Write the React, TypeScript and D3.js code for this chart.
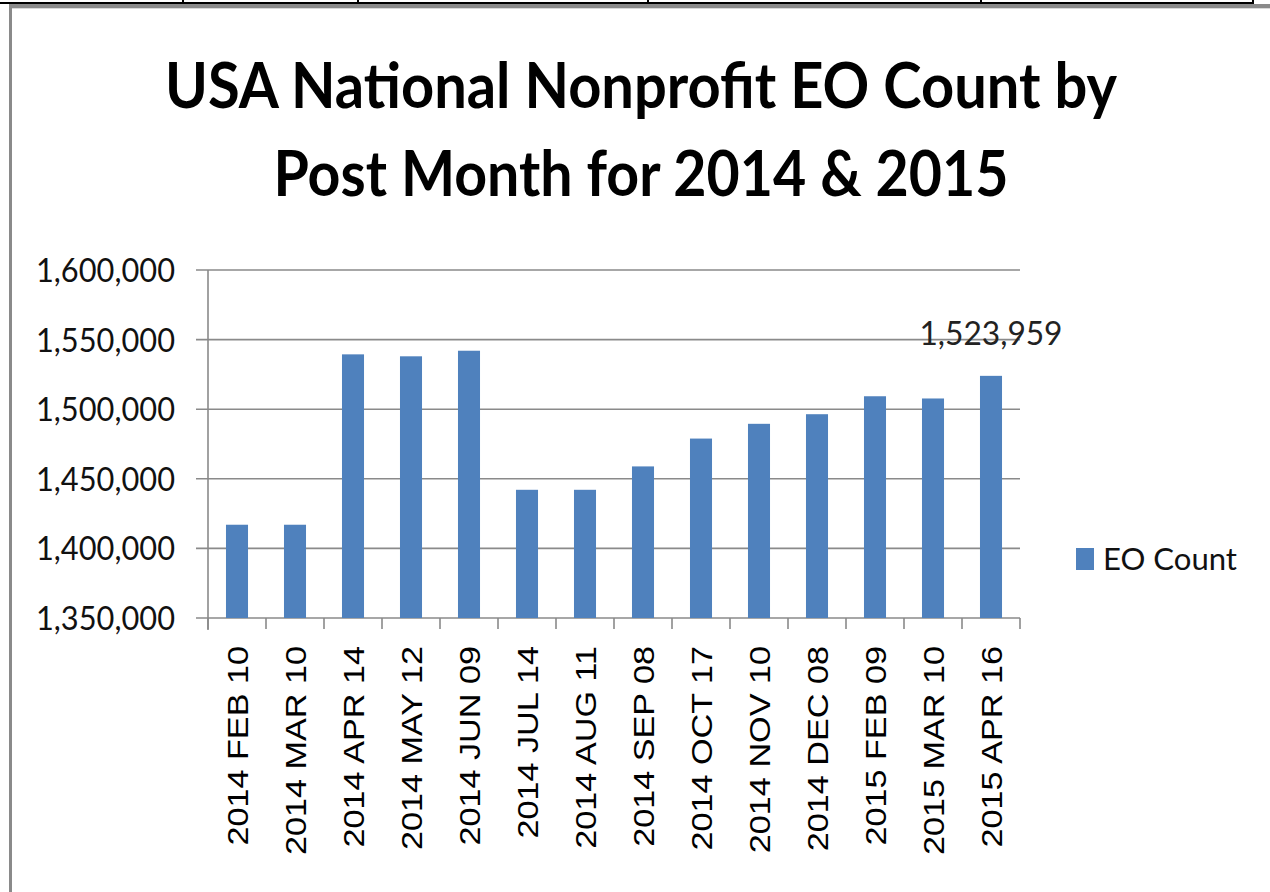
import React from "react";
import * as d3 from "d3";

const categories = [
  "2014 FEB 10", "2014 MAR 10", "2014 APR 14", "2014 MAY 12", "2014 JUN 09",
  "2014 JUL 14", "2014 AUG 11", "2014 SEP 08", "2014 OCT 17", "2014 NOV 10",
  "2014 DEC 08", "2015 FEB 09", "2015 MAR 10", "2015 APR 16",
];
const eoCount = [
  1417000, 1417000, 1539400, 1538000, 1542000,
  1442100, 1442100, 1458900, 1478900, 1489500,
  1496400, 1509300, 1507700, 1523959,
];
const yTicks = [1350000, 1400000, 1450000, 1500000, 1550000, 1600000];
const titleLines = ["USA National Nonprofit EO Count by", "Post Month for 2014 & 2015"];
const seriesName = "EO Count";
const topTicks = [183, 358, 648, 981, 1253];

export default function App() {
  const W = 1270, H = 892;
  const left = 208, right = 1020, top = 270, bottom = 618;
  const x = d3.scaleBand<string>().domain(categories).range([left, right]).paddingInner(0.62).paddingOuter(0.31);
  const y = d3.scaleLinear().domain([1350000, 1600000]).range([bottom, top]);
  const fmt = d3.format(",");
  const step = x.step();
  const boundaries = d3.range(categories.length + 1).map((i) => left + i * step);
  const blue = "#4F81BD";
  const grid = "#8a8a8a";
  const lastIdx = eoCount.length - 1;

  return (
    <svg width={W} height={H} style={{ position: "absolute", left: 0, top: 0, background: "#fff" }}>
      {/* frame */}
      <line x1={0} x2={1254} y1={3} y2={3} stroke="#000" strokeWidth={2} />
      {topTicks.map((t) => (
        <line key={t} x1={t} x2={t} y1={0} y2={4} stroke="#000" strokeWidth={2} />
      ))}
      <rect x={9} y={4} width={W - 9} height={4} fill="#8a8a8a" />
      <rect x={9} y={8} width={W - 9} height={1} fill="#d9d9d9" />
      <rect x={9} y={4} width={3} height={H - 4} fill="#8a8a8a" />

      {/* title */}
      {titleLines.map((t, i) => (
        <text key={t} x={641} y={108 + i * 88} textAnchor="middle" fontFamily="Lato, 'Open Sans', sans-serif"
          fontWeight={700} fontSize={63} fill="#000" textLength={i === 0 ? 952 : 735} lengthAdjust="spacingAndGlyphs">
          {t}
        </text>
      ))}

      {/* gridlines and y axis labels */}
      {yTicks.map((v) => (
        <g key={v}>
          <line x1={196} x2={right} y1={y(v)} y2={y(v)} stroke={grid} strokeWidth={1.6} />
          <text x={175} y={y(v) + 12} textAnchor="end" fontFamily="Lato, sans-serif" fontSize={32} fill="#111"
            textLength={139} lengthAdjust="spacingAndGlyphs">
            {fmt(v)}
          </text>
        </g>
      ))}
      {/* y axis line */}
      <line x1={left} x2={left} y1={top} y2={bottom + 12} stroke={grid} strokeWidth={1.6} />
      {/* x ticks */}
      {boundaries.map((b, i) => (
        <line key={i} x1={b} x2={b} y1={bottom} y2={bottom + 11} stroke={grid} strokeWidth={1.6} />
      ))}

      {/* bars */}
      {eoCount.map((v, i) => (
        <rect key={categories[i]} x={x(categories[i])!} y={y(v)} width={x.bandwidth()} height={bottom - y(v)} fill={blue} />
      ))}

      {/* data label */}
      <text x={x(categories[lastIdx])! + x.bandwidth() / 2} y={345} textAnchor="middle" fontFamily="Lato, sans-serif"
        fontSize={32} fill="#222" textLength={143} lengthAdjust="spacingAndGlyphs">
        {fmt(eoCount[lastIdx])}
      </text>

      {/* x labels */}
      {categories.map((c) => {
        const cx = x(c)! + x.bandwidth() / 2;
        return (
          <text key={c} transform={`translate(${cx + 11},646) rotate(-90) scale(1.14,1)`} textAnchor="end"
            fontFamily="'Liberation Sans', Arial, sans-serif" fontSize={30} fill="#000">
            {c}
          </text>
        );
      })}

      {/* legend */}
      <rect x={1076} y={548} width={18} height={22} fill={blue} />
      <text x={1103} y={570} fontFamily="Lato, sans-serif" fontSize={31} fill="#111" textLength={134} lengthAdjust="spacingAndGlyphs">
        {seriesName}
      </text>
    </svg>
  );
}
